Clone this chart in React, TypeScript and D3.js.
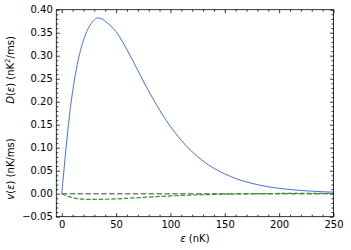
import React, { useEffect, useRef } from 'react';
import * as d3 from 'd3';

// energy grid (nK) and values
const eps = [0, 2, 4, 6, 8, 10, 12, 15, 18, 22, 26, 30, 33, 36, 40, 45, 50, 55, 60, 65, 70, 75, 80, 90, 100, 110, 120, 130, 140, 150, 160, 170, 180, 190, 200, 210, 220, 230, 240, 250];
const diffusion = [0, 0.05, 0.1, 0.146, 0.187, 0.222, 0.252, 0.289, 0.318, 0.347, 0.366, 0.378, 0.382, 0.381, 0.375, 0.365, 0.352, 0.334, 0.313, 0.291, 0.268, 0.245, 0.223, 0.182, 0.146, 0.116, 0.091, 0.071, 0.055, 0.043, 0.033, 0.0255, 0.0196, 0.015, 0.0116, 0.009, 0.007, 0.0055, 0.0043, 0.0034];

const epsV = [0, 5, 10, 15, 20, 25, 30, 35, 40, 50, 60, 70, 80, 90, 100, 110, 120, 130, 140, 150, 160, 170, 180, 190, 200, 210, 220, 230, 240, 250];
const drift = [0, -0.005, -0.0085, -0.0107, -0.0119, -0.0124, -0.0125, -0.0124, -0.0121, -0.0112, -0.01, -0.0087, -0.0073, -0.006, -0.0048, -0.0038, -0.0029, -0.0021, -0.0015, -0.001, -0.0006, -0.0002, 0.0001, 0.0003, 0.0005, 0.0006, 0.0007, 0.0008, 0.0008, 0.0008];

const zeroLine = [0, 250];

const xTicks = [0, 50, 100, 150, 200, 250];
const yTicks = [-0.05, 0, 0.05, 0.1, 0.15, 0.2, 0.25, 0.3, 0.35, 0.4];

const App = () => {
    const svgRef = useRef<SVGSVGElement>(null);
    const width = 351;
    const height = 250;
    const margin = { top: 9.7, right: 17.5, bottom: 33.3, left: 56.3 };

    useEffect(() => {
        const svg = d3.select(svgRef.current);
        svg.selectAll('*').remove();

        const x = d3.scaleLinear().domain([-5, 250]).range([margin.left, width - margin.right]);
        const y = d3.scaleLinear().domain([-0.05, 0.4]).range([height - margin.bottom, margin.top]);

        const font = 'DejaVu Sans, sans-serif';
        const x0 = margin.left, x1 = width - margin.right;
        const y0 = height - margin.bottom, y1 = margin.top;

        const xMinor = d3.range(-0, 251, 10).filter(v => v % 50 !== 0);
        const yMinor = d3.range(-50, 401, 10).map(v => v / 1000).filter((v, i) => (i % 5) !== 0);

        const styleAxis = (g) => {
            g.select('.domain').remove();
            g.selectAll('line').attr('stroke', '#000').attr('stroke-width', 0.8);
            g.selectAll('text').attr('font-family', font).attr('font-size', 10).attr('fill', '#000');
        };

        // major + minor ticks, inward, on all four sides
        svg.append('g').attr('transform', `translate(0,${y0})`)
            .call(d3.axisBottom(x).tickValues(xTicks).tickSize(-3.5).tickPadding(4).tickFormat(d3.format('d')))
            .call(styleAxis);
        svg.append('g').attr('transform', `translate(0,${y0})`)
            .call(d3.axisBottom(x).tickValues(xMinor).tickSize(-2).tickFormat(() => ''))
            .call(styleAxis);
        svg.append('g').attr('transform', `translate(0,${y1})`)
            .call(d3.axisTop(x).tickValues(xTicks).tickSize(-3.5).tickFormat(() => ''))
            .call(styleAxis);
        svg.append('g').attr('transform', `translate(0,${y1})`)
            .call(d3.axisTop(x).tickValues(xMinor).tickSize(-2).tickFormat(() => ''))
            .call(styleAxis);

        svg.append('g').attr('transform', `translate(${x0},0)`)
            .call(d3.axisLeft(y).tickValues(yTicks).tickSize(-3.5).tickPadding(3.5)
                .tickFormat(d => d3.format('.2f')(d).replace('-', '\u2212')))
            .call(styleAxis);
        svg.append('g').attr('transform', `translate(${x0},0)`)
            .call(d3.axisLeft(y).tickValues(yMinor).tickSize(-2).tickFormat(() => ''))
            .call(styleAxis);
        svg.append('g').attr('transform', `translate(${x1},0)`)
            .call(d3.axisRight(y).tickValues(yTicks).tickSize(-3.5).tickFormat(() => ''))
            .call(styleAxis);
        svg.append('g').attr('transform', `translate(${x1},0)`)
            .call(d3.axisRight(y).tickValues(yMinor).tickSize(-2).tickFormat(() => ''))
            .call(styleAxis);

        // curves
        const line = d3.line<[number, number]>().x(d => x(d[0])).y(d => y(d[1]));

        svg.append('path')
            .datum(zeroLine.map(e => [e, 0]))
            .attr('d', line)
            .attr('fill', 'none')
            .attr('stroke', '#808080')
            .attr('stroke-width', 1.5)
            .attr('stroke-dasharray', '5.5,2.4');

        svg.append('path')
            .datum(epsV.map((e, i) => [e, drift[i]]))
            .attr('d', line.curve(d3.curveMonotoneX))
            .attr('fill', 'none')
            .attr('stroke', '#2a9a2a')
            .attr('stroke-width', 1.2)
            .attr('stroke-dasharray', '4.4,1.9');

        svg.append('path')
            .datum(eps.map((e, i) => [e, diffusion[i]]))
            .attr('d', line.curve(d3.curveMonotoneX))
            .attr('fill', 'none')
            .attr('stroke', '#4a70e4')
            .attr('stroke-width', 1);

        // frame
        svg.append('rect')
            .attr('x', x0).attr('y', y1)
            .attr('width', x1 - x0).attr('height', y0 - y1)
            .attr('fill', 'none').attr('stroke', '#000').attr('stroke-width', 0.8);

        // axis labels
        const xl = svg.append('text')
            .attr('x', (x0 + x1) / 2).attr('y', 242)
            .attr('text-anchor', 'middle')
            .attr('font-family', font).attr('font-size', 10);
        xl.append('tspan').attr('font-style', 'italic').text('ε');
        xl.append('tspan').text(' (nK)');

        const dl = svg.append('text')
            .attr('transform', 'translate(14,70) rotate(-90)')
            .attr('text-anchor', 'middle')
            .attr('font-family', font).attr('font-size', 10);
        dl.append('tspan').attr('font-style', 'italic').text('D');
        dl.append('tspan').text('(');
        dl.append('tspan').attr('font-style', 'italic').text('ε');
        dl.append('tspan').text(') (nK');
        dl.append('tspan').attr('font-size', 7).attr('dy', -4).text('2');
        dl.append('tspan').attr('dy', 4).text('/ms)');

        const vl = svg.append('text')
            .attr('transform', 'translate(14,169) rotate(-90)')
            .attr('text-anchor', 'middle')
            .attr('font-family', font).attr('font-size', 10);
        vl.append('tspan').attr('font-style', 'italic').text('v');
        vl.append('tspan').text('(');
        vl.append('tspan').attr('font-style', 'italic').text('ε');
        vl.append('tspan').text(') (nK/ms)');
    }, []);

    return (
        <svg ref={svgRef} width={width} height={height}
            style={{ position: 'absolute', left: 0, top: 0, background: '#fff' }}></svg>
    );
};

export default App;
